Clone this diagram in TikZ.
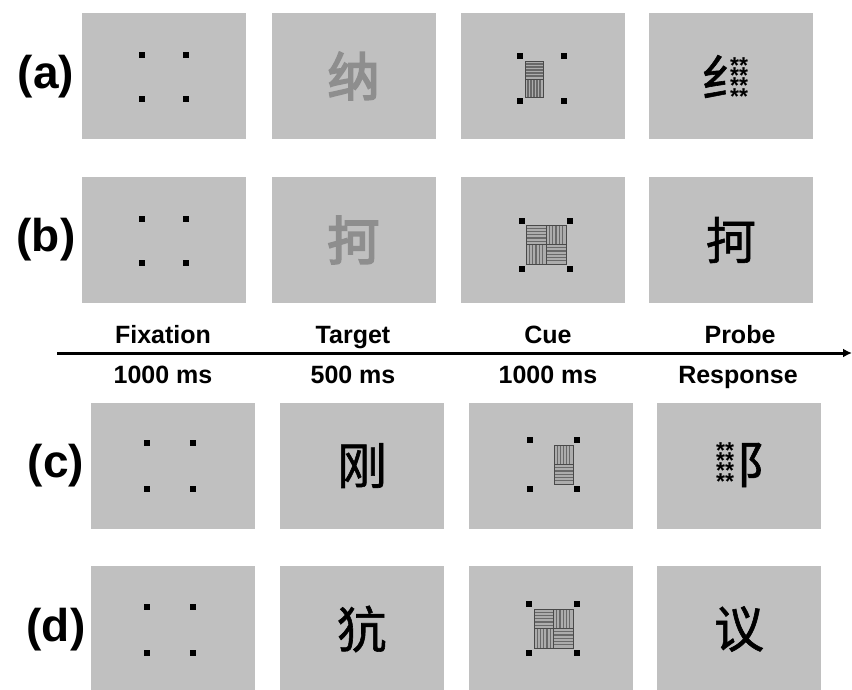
\documentclass[tikz,border=0pt]{standalone}
\usepackage{fontspec}
\setmainfont{Liberation Sans}
\newfontfamily\cjk[FakeBold=1.2]{Noto Sans CJK SC}
\newfontfamily\cjkblur[FakeBold=3.5]{Noto Sans CJK SC}
\usetikzlibrary{arrows.meta}
\definecolor{panelgray}{RGB}{192,192,192}
\definecolor{stripedark}{RGB}{105,105,105}
\definecolor{stripelite}{RGB}{172,172,172}
\definecolor{blurgray}{RGB}{142,142,142}
\newcommand{\tightlines}{\lineskiplimit=-100pt\relax}
\tikzset{
  panel/.style    ={fill=panelgray, draw=none, minimum width=164pt, minimum height=126pt, inner sep=0pt},
  rowlbl/.style   ={font=\fontsize{46}{50}\selectfont\bfseries, inner sep=0pt},
  timelbl/.style  ={font=\fontsize{25}{28}\selectfont\bfseries, anchor=base, inner sep=0pt},
  hanzi/.style    ={font=\cjk\fontsize{50}{54}\selectfont, inner sep=0pt},
  blurhanzi/.style={font=\cjkblur\fontsize{52}{56}\selectfont, inner sep=0pt, text=blurgray},
  stars/.style    ={font={\fontsize{23}{10.4}\selectfont\bfseries\tightlines}, align=center, inner sep=0pt, anchor=north},
  timeline/.style ={line width=3pt, -{Latex[length=9pt,width=9pt]}}
}
% four fixation squares round a centre
\newcommand{\fixdots}[4]{%
  \foreach \sx in {-1,1}{\foreach \sy in {-1,1}{
    \fill ({#1+\sx*#3-3},{#2+\sy*#4-3}) rectangle ++(6,6);}}}
% striped cells of the cue
\newcommand{\hst}[4]{%
  \fill[stripelite] (#1,#2) rectangle (#3,#4);
  \foreach \k in {1,...,5}{\draw[stripedark, line width=1.2pt] (#1,{#2+(#4-#2)*\k/6}) -- (#3,{#2+(#4-#2)*\k/6});}
  \draw[stripedark!70!black, line width=0.9pt] (#1,#2) rectangle (#3,#4);}
\newcommand{\vst}[4]{%
  \fill[stripelite] (#1,#2) rectangle (#3,#4);
  \foreach \k in {1,...,5}{\draw[stripedark, line width=1.2pt] ({#1+(#3-#1)*\k/6},#2) -- ({#1+(#3-#1)*\k/6},#4);}
  \draw[stripedark!70!black, line width=0.9pt] (#1,#2) rectangle (#3,#4);}

\begin{document}
\begin{tikzpicture}[x=1pt, y=-1pt]
  \useasboundingbox[fill=white] (0,0) rectangle (852,689);
  % panels
  \foreach \r/\y in {a/76,b/240}
    \foreach \c/\x in {1/164,2/353.5,3/542.5,4/731}
      \node[panel] (\r\c) at (\x,\y) {};
  \foreach \r/\y in {c/465.5,d/629}
    \foreach \c/\x in {1/172.5,2/362,3/550.5,4/739}
      \node[panel] (\r\c) at (\x,\y) {};
  % row labels
  \node[rowlbl] (la) at (46,77)  {(a)};
  \node[rowlbl] (lb) at (46,240) {(b)};
  \node[rowlbl] (lc) at (56,466) {(c)};
  \node[rowlbl] (ld) at (56,630) {(d)};
  % fixation
  \fixdots{164}{77}{22}{22}
  \fixdots{164}{241}{22}{22}
  \fixdots{170}{466}{23}{23}
  \fixdots{170}{630}{23}{23}
  % targets
  \node[blurhanzi] (ta) at (353.5,76) {纳};
  \node[blurhanzi] (tb) at (353.5,240) {抲};
  \node[hanzi] (tc) at (362,465.5) {刚};
  \node[hanzi] (td) at (362,629) {犺};
  % cues
  \fixdots{542}{78.5}{22}{22.5}
  \hst{525}{61}{543}{79}\vst{525}{79}{543}{97}
  \fixdots{546}{245}{24}{24}
  \hst{526}{225}{546}{244.5}\vst{546}{225}{566}{244.5}
  \vst{526}{244.5}{546}{264}\hst{546}{244.5}{566}{264}
  \fixdots{553.5}{464.5}{23.5}{24.5}
  \vst{554}{445}{573}{464.5}\hst{554}{464.5}{573}{484}
  \fixdots{553}{628.5}{24}{24.5}
  \hst{534}{609}{553.5}{628.5}\vst{553.5}{609}{573}{628.5}
  \vst{534}{628.5}{553.5}{648}\hst{553.5}{628.5}{573}{648}
  % probes
  \node[hanzi] (pa) at (726,76.5) {纟};
  \node[stars] (sa) at (739,57) {**\\**\\**\\**};
  \node[hanzi] (pb) at (731,240) {抲};
  \node[stars] (sc) at (725,442) {**\\**\\**\\**};
  \node[hanzi] (pc) at (761,465) {阝};
  \node[hanzi] (pd) at (739,629) {议};
  % time line
  \coordinate (tstart) at (57,353);
  \coordinate (tend) at (852,353);
  \draw[timeline] (tstart) -- (tend);
  \node[timelbl] (fix) at (163,343) {Fixation};
  \node[timelbl] (tgt) at (353,343) {Target};
  \node[timelbl] (cue) at (548,343) {Cue};
  \node[timelbl] (prb) at (740,343) {Probe};
  \node[timelbl] (dfix) at (163,383) {1000 ms};
  \node[timelbl] (dtgt) at (353,383) {500 ms};
  \node[timelbl] (dcue) at (548,383) {1000 ms};
  \node[timelbl] (dprb) at (738,383) {Response};
\end{tikzpicture}
\end{document}
